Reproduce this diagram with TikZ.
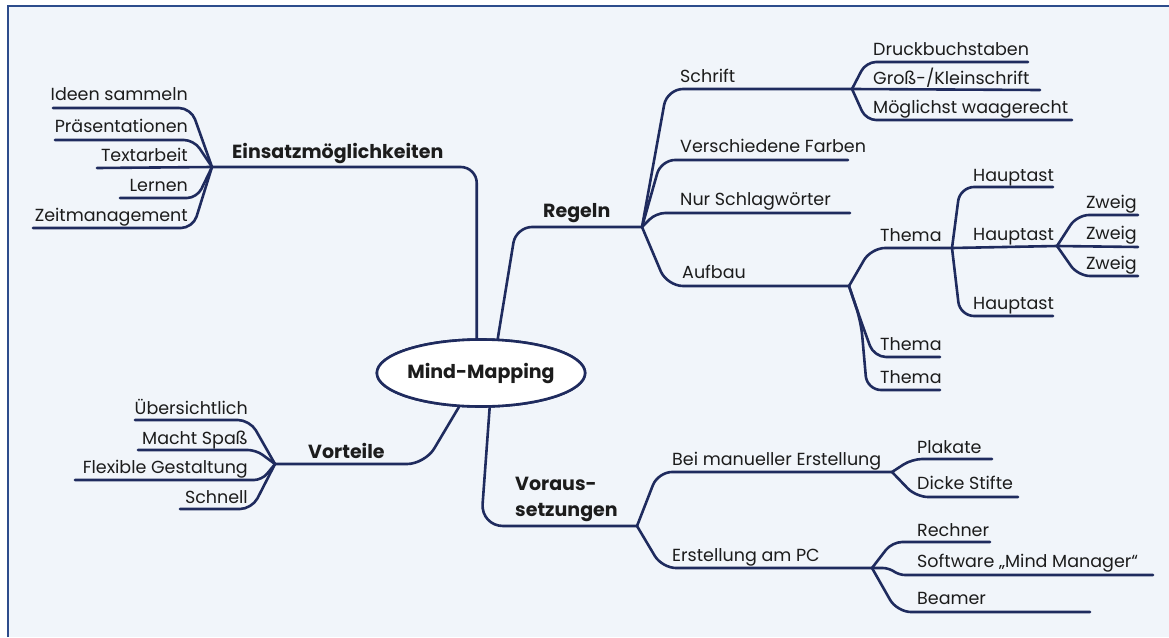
\documentclass[tikz,border=0pt]{standalone}
\usepackage{fontspec}
\setmainfont{Poppins}
\usetikzlibrary{shapes.geometric}
\definecolor{ln}{HTML}{1F2B5E}
\definecolor{framec}{HTML}{2D4C8C}
\definecolor{bg}{HTML}{F1F5FA}
\definecolor{txt}{HTML}{1C1C1C}
\tikzset{
  br/.style={draw=ln, line width=2.6pt, rounded corners=14pt, line cap=round, line join=round},
  lbl/.style={inner sep=0pt, font=\fontsize{17.5}{20}\selectfont, text=txt},
  bld/.style={inner sep=0pt, font=\fontsize{19}{22}\selectfont\bfseries, text=txt},
}
\begin{document}
\begin{tikzpicture}[x=1pt,y=-1pt]
\useasboundingbox (0,0) rectangle (1169,637);
\fill[white] (0,0) rectangle (1169,637);
\fill[bg] (8,6) rectangle (1169,637);
\draw[framec, line width=2pt] (8,637) -- (8,6) -- (1169,6);

% central node
\node[ellipse, draw=ln, line width=2.6pt, fill=white, minimum width=192pt, minimum height=67pt, inner sep=0pt,
      font=\fontsize{19}{22}\selectfont\bfseries, text=txt] (mm) at (481,373) {Mind-Mapping};

% junctions
\coordinate (jE) at (212,167);
\coordinate (jR) at (642,227);
\coordinate (jS) at (852,89);
\coordinate (jA) at (849,286);
\coordinate (jT) at (952,248);
\coordinate (jH) at (1057,246);
\coordinate (jV) at (275,464);
\coordinate (jX) at (637,526);
\coordinate (jB) at (892,472);
\coordinate (jP) at (872,568);

% underline ends
\coordinate (eIdeen) at (53,108);
\coordinate (ePraes) at (55,140);
\coordinate (eText) at (97,168);
\coordinate (eLern) at (120,198);
\coordinate (eZeit) at (33,228);
\coordinate (eUeb) at (135,420);
\coordinate (eSpass) at (138,450);
\coordinate (eFlex) at (75,480);
\coordinate (eSchn) at (180,509);
\coordinate (eFarb) at (848,160);
\coordinate (eNur) at (850,213);
\coordinate (eDruck) at (1028,62);
\coordinate (eGross) at (1040,90);
\coordinate (eMoegl) at (1072,120);
\coordinate (eH1) at (1053,187);
\coordinate (eH3) at (1053,316);
\coordinate (eZ1) at (1138,215);
\coordinate (eZ2) at (1138,247);
\coordinate (eZ3) at (1138,276);
\coordinate (eT2) at (940,357);
\coordinate (eT3) at (940,390);
\coordinate (ePlak) at (992,459);
\coordinate (eDick) at (1018,497);
\coordinate (eRech) at (990,542);
\coordinate (eSoft) at (1153,575);
\coordinate (eBeam) at (1090,612);

% main branches
\draw[br, rounded corners=16pt] (jE) -- (mm.97 |- jE) -- (mm.97);
\draw[br, rounded corners=16pt] (mm.64) -- (516,227) -- (jR);
\draw[br, rounded corners=18pt] (mm.237) -- (425,464) -- (jV);
\draw[br, rounded corners=22pt] (mm.284) -- (481,526) -- (jX);

% Einsatz leaves
\draw[br, rounded corners=12pt] (jE) -- (191,108) -- (eIdeen);
\draw[br, rounded corners=10pt] (jE) -- (194,140) -- (ePraes);
\draw[br] (jE) -- (eText);
\draw[br, rounded corners=10pt] (jE) -- (197,198) -- (eLern);
\draw[br, rounded corners=12pt] (jE) -- (193,228) -- (eZeit);

% Vorteile leaves
\draw[br, rounded corners=12pt] (jV) -- (250,420) -- (eUeb);
\draw[br, rounded corners=8pt] (jV) -- (256,450) -- (eSpass);
\draw[br, rounded corners=8pt] (jV) -- (262,480) -- (eFlex);
\draw[br, rounded corners=12pt] (jV) -- (252,509) -- (eSchn);

% Regeln
\draw[br, rounded corners=16pt] (jR) -- (667,89) -- (jS);
\draw[br, rounded corners=14pt] (jR) -- (661,160) -- (eFarb);
\draw[br, rounded corners=9pt] (jR) -- (656,213) -- (eNur);
\draw[br, rounded corners=16pt] (jR) -- (667,286) -- (jA);

% Schrift
\draw[br, rounded corners=10pt] (jS) -- (866,62) -- (eDruck);
\draw[br] (jS) -- (eGross);
\draw[br, rounded corners=10pt] (jS) -- (866,120) -- (eMoegl);

% Aufbau
\draw[br, rounded corners=14pt] (jA) -- (871,248) -- (jT);
\draw[br, rounded corners=12pt] (jA) -- (862,324) -- (874,357) -- (eT2);
\draw[br, rounded corners=14pt] (jA) -- (861,322) -- (867,390) -- (eT3);

% Thema
\draw[br, rounded corners=14pt] (jT) -- (960,187) -- (eH1);
\draw[br] (jT) -- (jH);
\draw[br, rounded corners=14pt] (jT) -- (960,316) -- (eH3);

% Hauptast
\draw[br, rounded corners=12pt] (jH) -- (1077,215) -- (eZ1);
\draw[br] (jH) -- (eZ2);
\draw[br, rounded corners=12pt] (jH) -- (1078,276) -- (eZ3);

% Voraussetzungen
\draw[br, rounded corners=14pt] (jX) -- (658,472) -- (jB);
\draw[br, rounded corners=14pt] (jX) -- (662,568) -- (jP);
\draw[br, rounded corners=10pt] (jB) -- (912,459) -- (ePlak);
\draw[br, rounded corners=12pt] (jB) -- (916,497) -- (eDick);
\draw[br, rounded corners=10pt] (jP) -- (892,542) -- (eRech);
\draw[br, rounded corners=6pt] (jP) -- (889,568) -- (899,575) -- (eSoft);
\draw[br, rounded corners=14pt] (jP) -- (897,612) -- (eBeam);

% redraw ellipse on top
\node[ellipse, draw=ln, line width=2.6pt, fill=white, minimum width=192pt, minimum height=67pt, inner sep=0pt,
      font=\fontsize{19}{22}\selectfont\bfseries, text=txt] (mm2) at (mm.center) {Mind-Mapping};

% bold labels
\node[bld, anchor=base west] (lEin) at (232,158) {Einsatzmöglichkeiten};
\node[bld, anchor=base west] (lReg) at (543,217) {Regeln};
\node[bld, anchor=base west] (lVor) at (308,458) {Vorteile};
\node[bld, anchor=base west] (lVo1) at (515,490) {Voraus-};
\node[bld, anchor=base west] (lVo2) at (515,516) {setzungen};

% Einsatz labels
\node[lbl, anchor=base east] (tIdeen) at (188,100) {Ideen sammeln};
\node[lbl, anchor=base east] (tPraes) at (188,132) {Präsentationen};
\node[lbl, anchor=base east] (tText) at (188,161) {Textarbeit};
\node[lbl, anchor=base east] (tLern) at (188,191) {Lernen};
\node[lbl, anchor=base east] (tZeit) at (188,221) {Zeitmanagement};

% Vorteile labels
\node[lbl, anchor=base east] (tUeb) at (248,414) {Übersichtlich};
\node[lbl, anchor=base east] (tSpass) at (248,444) {Macht Spaß};
\node[lbl, anchor=base east] (tFlex) at (248,473) {Flexible Gestaltung};
\node[lbl, anchor=base east] (tSchn) at (248,503) {Schnell};

% Regeln labels
\node[lbl, anchor=base west] (tSchrift) at (680,82) {Schrift};
\node[lbl, anchor=base west] (tFarb) at (680,152) {Verschiedene Farben};
\node[lbl, anchor=base west] (tNur) at (680,205) {Nur Schlagwörter};
\node[lbl, anchor=base west] (tAuf) at (682,278) {Aufbau};
\node[lbl, anchor=base west] (tDruck) at (873,55) {Druckbuchstaben};
\node[lbl, anchor=base west] (tGross) at (873,84) {Groß-/Kleinschrift};
\node[lbl, anchor=base west] (tMoegl) at (873,113) {Möglichst waagerecht};
\node[lbl, anchor=base west] (tT1) at (880,241) {Thema};
\node[lbl, anchor=base west] (tT2) at (880,350) {Thema};
\node[lbl, anchor=base west] (tT3) at (880,383) {Thema};
\node[lbl, anchor=base west] (tH1) at (973,181) {Hauptast};
\node[lbl, anchor=base west] (tH2) at (973,240) {Hauptast};
\node[lbl, anchor=base west] (tH3) at (973,309) {Hauptast};
\node[lbl, anchor=base east] (tZ1) at (1137,208) {Zweig};
\node[lbl, anchor=base east] (tZ2) at (1137,239) {Zweig};
\node[lbl, anchor=base east] (tZ3) at (1137,269) {Zweig};

% Voraussetzungen labels
\node[lbl, anchor=base west] (tBei) at (672,465) {Bei manueller Erstellung};
\node[lbl, anchor=base west] (tPC) at (672,561) {Erstellung am PC};
\node[lbl, anchor=base west] (tPlak) at (917,453) {Plakate};
\node[lbl, anchor=base west] (tDick) at (917,489) {Dicke Stifte};
\node[lbl, anchor=base west] (tRech) at (917,536) {Rechner};
\node[lbl, anchor=base west] (tSoft) at (917,567) {Software „Mind Manager“};
\node[lbl, anchor=base west] (tBeam) at (917,604) {Beamer};
\end{tikzpicture}
\end{document}
